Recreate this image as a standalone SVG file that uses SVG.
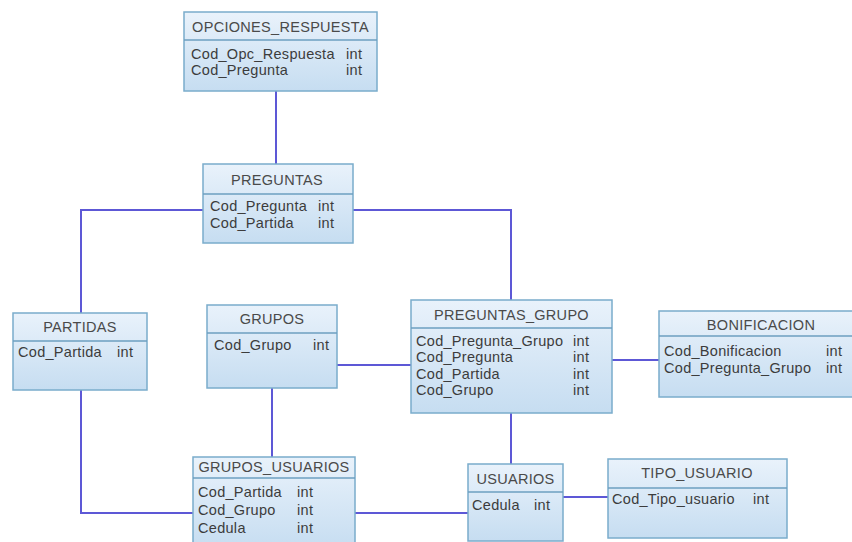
<svg xmlns="http://www.w3.org/2000/svg" width="852" height="542" viewBox="0 0 852 542">
<defs>
<linearGradient id="g" x1="0" y1="0" x2="0" y2="1">
<stop offset="0" stop-color="#e9f2fb"/>
<stop offset="1" stop-color="#c6ddf1"/>
</linearGradient>
<style>
.box{fill:url(#g);stroke:#7aaccb;stroke-width:1.5}
.sep{stroke:#6d9fc0;stroke-width:1.5}
.h{font-family:"Liberation Sans",Arial,sans-serif;font-size:14.5px;letter-spacing:0.3px;fill:#4a4a4a;text-anchor:middle}
.t{font-family:"Liberation Sans",Arial,sans-serif;font-size:14.5px;letter-spacing:0.3px;fill:#3c3c3c}
.c{fill:none;stroke:#5d58d6;stroke-width:2}
</style>
</defs>
<rect width="852" height="542" fill="#ffffff"/>
<g id="connectors">
<path class="c" d="M276 91 V164"/>
<path class="c" d="M203 210 H81 V313"/>
<path class="c" d="M353 210 H511 V300"/>
<path class="c" d="M337 365 H411"/>
<path class="c" d="M612 360 H659"/>
<path class="c" d="M81 390 V513 H193"/>
<path class="c" d="M272 388 V457"/>
<path class="c" d="M355 513 H468"/>
<path class="c" d="M511 413 V464"/>
<path class="c" d="M563 497 H608"/>
</g>
<g id="OPCIONES_RESPUESTA">
<rect class="box" x="184" y="12" width="193" height="79"/>
<line class="sep" x1="184" y1="40" x2="377" y2="40"/>
<text class="h" x="280.5" y="32">OPCIONES_RESPUESTA</text>
<text class="t" x="191" y="59">Cod_Opc_Respuesta</text><text class="t" x="346" y="59">int</text>
<text class="t" x="191" y="75">Cod_Pregunta</text><text class="t" x="346" y="75">int</text>
</g>
<g id="PREGUNTAS">
<rect class="box" x="203" y="164" width="150" height="79"/>
<line class="sep" x1="203" y1="194" x2="353" y2="194"/>
<text class="h" x="277" y="185">PREGUNTAS</text>
<text class="t" x="210" y="211">Cod_Pregunta</text><text class="t" x="318" y="211">int</text>
<text class="t" x="210" y="228">Cod_Partida</text><text class="t" x="318" y="228">int</text>
</g>
<g id="PARTIDAS">
<rect class="box" x="13" y="313" width="134" height="77"/>
<line class="sep" x1="13" y1="341" x2="147" y2="341"/>
<text class="h" x="80" y="332">PARTIDAS</text>
<text class="t" x="18" y="357">Cod_Partida</text><text class="t" x="117" y="357">int</text>
</g>
<g id="GRUPOS">
<rect class="box" x="207" y="305" width="130" height="83"/>
<line class="sep" x1="207" y1="333" x2="337" y2="333"/>
<text class="h" x="272" y="324">GRUPOS</text>
<text class="t" x="214" y="350">Cod_Grupo</text><text class="t" x="313" y="350">int</text>
</g>
<g id="PREGUNTAS_GRUPO">
<rect class="box" x="411" y="300" width="201" height="113"/>
<line class="sep" x1="411" y1="328" x2="612" y2="328"/>
<text class="h" x="511.5" y="320">PREGUNTAS_GRUPO</text>
<text class="t" x="416" y="346">Cod_Pregunta_Grupo</text><text class="t" x="573" y="346">int</text>
<text class="t" x="416" y="362">Cod_Pregunta</text><text class="t" x="573" y="362">int</text>
<text class="t" x="416" y="379">Cod_Partida</text><text class="t" x="573" y="379">int</text>
<text class="t" x="416" y="395">Cod_Grupo</text><text class="t" x="573" y="395">int</text>
</g>
<g id="BONIFICACION">
<rect class="box" x="659" y="311" width="203" height="86"/>
<line class="sep" x1="659" y1="336" x2="862" y2="336"/>
<text class="h" x="761" y="330">BONIFICACION</text>
<text class="t" x="664" y="356">Cod_Bonificacion</text><text class="t" x="826" y="356">int</text>
<text class="t" x="664" y="373">Cod_Pregunta_Grupo</text><text class="t" x="826" y="373">int</text>
</g>
<g id="GRUPOS_USUARIOS">
<rect class="box" x="193" y="457" width="162" height="92"/>
<line class="sep" x1="193" y1="478" x2="355" y2="478"/>
<text class="h" x="274" y="472">GRUPOS_USUARIOS</text>
<text class="t" x="198" y="497">Cod_Partida</text><text class="t" x="297" y="497">int</text>
<text class="t" x="198" y="515">Cod_Grupo</text><text class="t" x="297" y="515">int</text>
<text class="t" x="198" y="533">Cedula</text><text class="t" x="297" y="533">int</text>
</g>
<g id="USUARIOS">
<rect class="box" x="468" y="464" width="95" height="77"/>
<line class="sep" x1="468" y1="492" x2="563" y2="492"/>
<text class="h" x="515.5" y="484">USUARIOS</text>
<text class="t" x="472" y="510">Cedula</text><text class="t" x="534" y="510">int</text>
</g>
<g id="TIPO_USUARIO">
<rect class="box" x="608" y="459" width="179" height="79"/>
<line class="sep" x1="608" y1="488" x2="787" y2="488"/>
<text class="h" x="697" y="478">TIPO_USUARIO</text>
<text class="t" x="612" y="504">Cod_Tipo_usuario</text><text class="t" x="753" y="504">int</text>
</g>
</svg>
